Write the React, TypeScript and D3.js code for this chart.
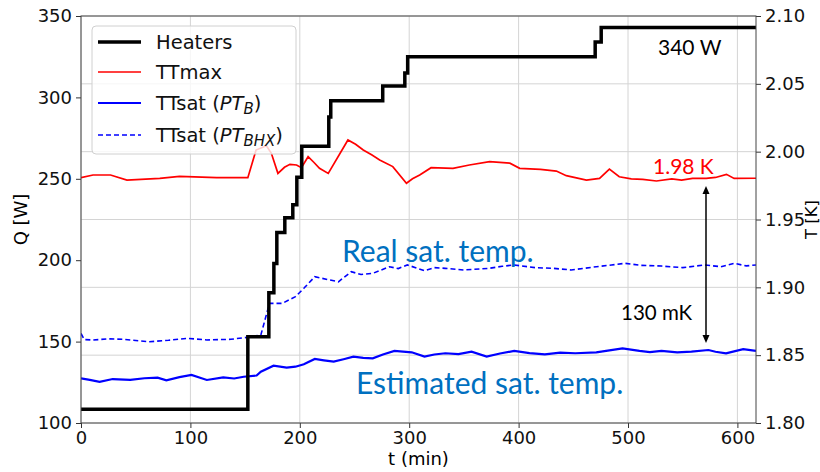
import * as d3 from "d3";
import { useEffect, useRef } from "react";

// heater power steps (t in min, Q in W)
const heatT = [0, 152.5, 171.7, 176.3, 179, 186.3, 193.6, 197.3, 201.8, 226.5, 228.3, 275.8, 296, 298.6, 470, 475.5, 617];
const heatQ = [108.4, 153, 180, 198, 217, 226, 234, 251, 270, 288, 298, 307, 315, 325, 334, 343, 343];

// TTmax (K)
const maxT = [0, 11, 27, 42, 72, 90, 124, 152.5, 160, 169.5, 174, 180, 186, 191, 197, 201.5, 207.6, 213, 218, 226, 244, 251, 258, 266, 273, 285, 297.5, 303, 309.6, 320, 340, 355, 373.5, 392, 401, 420, 434.5, 443.6, 462, 474, 483, 492, 503, 513.5, 526, 540, 549, 559, 571.5, 580, 590, 597, 617];
const maxK = [1.9808, 1.9828, 1.9828, 1.9791, 1.9803, 1.9818, 1.9808, 1.9808, 2.0012, 2.0044, 1.9988, 1.984, 1.9885, 1.9907, 1.9902, 1.9882, 1.9963, 1.992, 1.9877, 1.984, 2.0086, 2.0055, 2.0012, 1.9975, 1.9939, 1.989, 1.9767, 1.9800, 1.9828, 1.9882, 1.9877, 1.9902, 1.9926, 1.9915, 1.9877, 1.9870, 1.9857, 1.9823, 1.9791, 1.9803, 1.9872, 1.9815, 1.9800, 1.9796, 1.9784, 1.9800, 1.9790, 1.9803, 1.9803, 1.9810, 1.9833, 1.9803, 1.9804];

// TTsat from PT_B (K)
const satBT = [0, 8, 17, 29, 45, 58, 70, 78, 90, 101, 115, 130, 140, 148.7, 160.5, 164.4, 176, 188, 196, 203.7, 213.7, 222, 231, 240, 249, 258, 266.7, 276, 286.5, 302.3, 314, 323, 333, 345, 357, 370.8, 383, 396, 410, 424, 438, 451.8, 471, 483, 495, 510.5, 520, 530.6, 545, 558, 573.5, 580, 589.6, 605.3, 617];
const satBK = [1.8329, 1.8318, 1.8304, 1.8324, 1.8318, 1.833, 1.8334, 1.8314, 1.8338, 1.8354, 1.8317, 1.8336, 1.8328, 1.8341, 1.835, 1.8378, 1.8422, 1.8408, 1.8415, 1.8433, 1.8472, 1.8462, 1.8452, 1.8470, 1.8489, 1.8480, 1.8477, 1.8505, 1.8531, 1.8521, 1.8489, 1.8505, 1.8514, 1.8508, 1.8526, 1.8489, 1.8512, 1.8531, 1.8515, 1.8506, 1.8518, 1.8514, 1.8521, 1.8535, 1.855, 1.8531, 1.8522, 1.8531, 1.8520, 1.8526, 1.8538, 1.8525, 1.8514, 1.8545, 1.8531];

// TTsat from PT_BHX (K)
const satXT = [0, 3, 11, 25, 38, 50, 62, 80, 97.5, 115, 137, 152.5, 164.4, 172.3, 184, 196, 203.7, 213.7, 227.4, 235.3, 247, 256, 266.7, 282, 290, 298.3, 314, 323, 333, 350, 373, 385, 396, 415, 432, 448, 460, 471, 485, 497, 512, 530.6, 550, 570, 585, 597, 608, 617];
const satXK = [1.866, 1.8615, 1.8612, 1.862, 1.8617, 1.8608, 1.8599, 1.861, 1.8624, 1.8612, 1.8617, 1.8632, 1.8649, 1.8882, 1.8882, 1.8931, 1.8993, 1.9078, 1.9054, 1.9041, 1.9115, 1.9095, 1.9103, 1.9152, 1.9138, 1.9165, 1.9123, 1.9145, 1.914, 1.9128, 1.914, 1.9155, 1.9165, 1.9145, 1.914, 1.9128, 1.914, 1.9152, 1.9165, 1.9177, 1.9162, 1.9157, 1.9145, 1.9165, 1.9152, 1.9177, 1.9158, 1.9165];

const xTicks = [0, 100, 200, 300, 400, 500, 600];
const qTicks = [100, 150, 200, 250, 300, 350];
const kTicks = [1.8, 1.85, 1.9, 1.95, 2.0, 2.05, 2.1];

const W = 820;
const H = 472;
const m = { left: 81, top: 16, right: 64, bottom: 49 };
const tickFont = "DejaVu Sans";
const noteFont = "Lato";

export default function App() {
  const ref = useRef<SVGSVGElement>(null);

  useEffect(() => {
    const svg = d3.select(ref.current);
    svg.selectAll("*").remove();
    const pw = W - m.left - m.right;
    const ph = H - m.top - m.bottom;

    const x = d3.scaleLinear().domain([0, 617]).range([m.left, m.left + pw]);
    const yQ = d3.scaleLinear().domain([100, 350]).range([m.top + ph, m.top]);
    const yK = d3.scaleLinear().domain([1.8, 2.1]).range([m.top + ph, m.top]);

    svg.append("defs").append("clipPath").attr("id", "plot")
      .append("rect").attr("x", m.left).attr("y", m.top).attr("width", pw).attr("height", ph);

    // grid
    const grid = svg.append("g").attr("stroke", "#d4d4d4").attr("stroke-width", 1);
    xTicks.forEach((t) => {
      grid.append("line").attr("x1", x(t)).attr("x2", x(t)).attr("y1", m.top).attr("y2", m.top + ph);
    });
    kTicks.forEach((k) => {
      grid.append("line").attr("x1", m.left).attr("x2", m.left + pw).attr("y1", yK(k)).attr("y2", yK(k));
    });

    const plot = svg.append("g").attr("clip-path", "url(#plot)").attr("fill", "none");

    const lineK = (ts: number[], ks: number[]) =>
      d3.line<number>().x((d, i) => x(ts[i])).y((d) => yK(d))(ks);

    plot.append("path").attr("d", lineK(satXT, satXK))
      .attr("stroke", "#0000ff").attr("stroke-width", 1.6).attr("stroke-dasharray", "5,3");
    plot.append("path").attr("d", lineK(satBT, satBK))
      .attr("stroke", "#0000ff").attr("stroke-width", 2.2);
    plot.append("path").attr("d", lineK(maxT, maxK))
      .attr("stroke", "#ff0000").attr("stroke-width", 1.7);
    plot.append("path")
      .attr("d", d3.line<number>().x((d, i) => x(heatT[i])).y((d) => yQ(d)).curve(d3.curveStepAfter)(heatQ))
      .attr("stroke", "#000").attr("stroke-width", 3.5);

    // axes
    const styleAxis = (g: any) => {
      g.select(".domain").remove();
      g.selectAll("line").attr("stroke", "#333");
      g.selectAll("text").attr("font-family", tickFont).attr("font-size", 18).attr("fill", "#111");
    };
    svg.append("g").attr("transform", `translate(0,${m.top + ph})`)
      .call(d3.axisBottom(x).tickValues(xTicks).tickSize(5).tickPadding(3).tickFormat(d3.format("d")))
      .call(styleAxis);
    svg.append("g").attr("transform", `translate(${m.left},0)`)
      .call(d3.axisLeft(yQ).tickValues(qTicks).tickSize(5).tickPadding(4).tickFormat(d3.format("d")))
      .call(styleAxis);
    svg.append("g").attr("transform", `translate(${m.left + pw},0)`)
      .call(d3.axisRight(yK).tickValues(kTicks).tickSize(5).tickPadding(4).tickFormat(d3.format(".2f")))
      .call(styleAxis);

    svg.append("rect").attr("x", m.left).attr("y", m.top).attr("width", pw).attr("height", ph)
      .attr("fill", "none").attr("stroke", "#444").attr("stroke-width", 1);

    // axis labels
    svg.append("text").attr("x", m.left + pw / 2).attr("y", 465).attr("text-anchor", "middle")
      .attr("font-family", tickFont).attr("font-size", 18).text("t (min)");
    svg.append("text").attr("transform", `translate(27,${m.top + ph / 2}) rotate(-90)`).attr("text-anchor", "middle")
      .attr("font-family", tickFont).attr("font-size", 18).text("Q [W]");
    svg.append("text").attr("transform", `translate(817,${m.top + ph / 2}) rotate(-90)`).attr("text-anchor", "middle")
      .attr("font-family", tickFont).attr("font-size", 16.5).text("T [K]");

    // legend
    const lg = svg.append("g");
    lg.append("rect").attr("x", 92).attr("y", 26).attr("width", 204).attr("height", 128).attr("rx", 4)
      .attr("fill", "#fff").attr("fill-opacity", 0.8).attr("stroke", "#d0d0d0");
    const rows = [
      { y: 42, color: "#000", w: 3.5, dash: null, parts: [["Heaters", ""]] },
      { y: 72, color: "#ff0000", w: 1.7, dash: null, parts: [["TTmax", ""]] },
      { y: 103, color: "#0000ff", w: 2, dash: null, parts: [["TTsat (", ""], ["PT", "i"], ["B", "s"], [")", "r"]] },
      { y: 135, color: "#0000ff", w: 1.6, dash: "5,3", parts: [["TTsat (", ""], ["PT", "i"], ["BHX", "s"], [")", "r"]] },
    ];
    rows.forEach((r) => {
      const l = lg.append("line").attr("x1", 98).attr("x2", 141).attr("y1", r.y).attr("y2", r.y)
        .attr("stroke", r.color).attr("stroke-width", r.w);
      if (r.dash) l.attr("stroke-dasharray", r.dash);
      const t = lg.append("text").attr("x", 156).attr("y", r.y + 7).attr("font-family", tickFont)
        .attr("font-size", 19.5).attr("fill", "#111");
      r.parts.forEach(([s, k]) => {
        const ts = t.append("tspan").text(s);
        if (k === "i") ts.attr("font-style", "italic");
        if (k === "s") ts.attr("font-style", "italic").attr("font-size", 15).attr("dy", 4);
        if (k === "r") ts.attr("dy", -4);
      });
    });

    // annotations
    svg.append("text").attr("x", 342).attr("y", 262).attr("font-family", noteFont).attr("font-size", 30)
      .attr("fill", "#0070c0").text("Real sat. temp.");
    svg.append("text").attr("x", 356).attr("y", 394).attr("font-family", noteFont).attr("font-size", 30)
      .attr("fill", "#0070c0").text("Estimated sat. temp.");
    svg.append("text").attr("x", 658).attr("y", 55).attr("font-family", noteFont).attr("font-size", 21)
      .attr("fill", "#000").text("340 W");
    svg.append("text").attr("x", 653).attr("y", 174).attr("font-family", noteFont).attr("font-size", 21)
      .attr("fill", "#ff0000").text("1.98 K");
    svg.append("text").attr("x", 621).attr("y", 320).attr("font-family", noteFont).attr("font-size", 20.5)
      .attr("fill", "#000").text("130 mK");

    // double arrow between TTmax and TTsat
    const ax = 706;
    const ay1 = 186;
    const ay2 = 343;
    svg.append("line").attr("x1", ax).attr("x2", ax).attr("y1", ay1 + 6).attr("y2", ay2 - 6)
      .attr("stroke", "#000").attr("stroke-width", 1.5);
    svg.append("path").attr("d", `M${ax},${ay1} L${ax - 3.5},${ay1 + 8} L${ax + 3.5},${ay1 + 8} Z`).attr("fill", "#000");
    svg.append("path").attr("d", `M${ax},${ay2} L${ax - 3.5},${ay2 - 8} L${ax + 3.5},${ay2 - 8} Z`).attr("fill", "#000");
  }, []);

  return (
    <svg ref={ref} width={W} height={H}
      style={{ position: "absolute", left: 0, top: 0, background: "#fff" }} />
  );
}
